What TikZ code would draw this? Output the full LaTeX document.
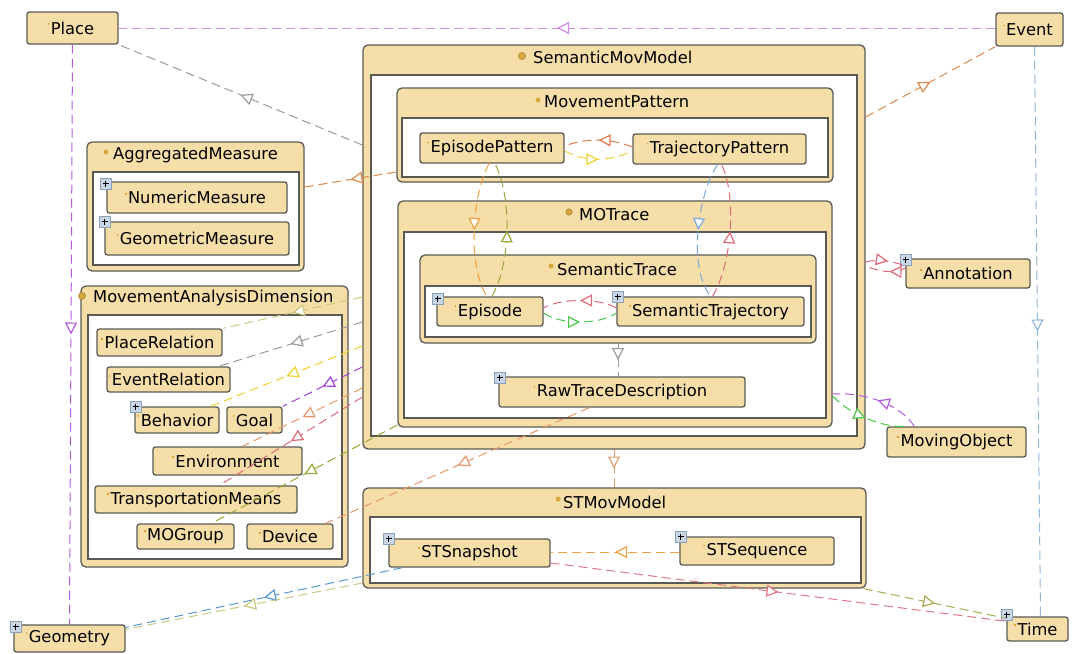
\documentclass[tikz,border=0pt]{standalone}
\usepackage{fontspec}
\setmainfont{DejaVu Sans}
\usetikzlibrary{arrows.meta,decorations.markings,calc}
\definecolor{boxfill}{HTML}{F6DEA8}
\definecolor{boxedge}{HTML}{5A5A55}
\definecolor{dotc}{HTML}{E0A030}
\definecolor{ringc}{HTML}{D8A840}
\definecolor{plusfill}{HTML}{C8D6E6}
\definecolor{plusedge}{HTML}{8AA0B8}
\definecolor{cpurL}{HTML}{CC8CE8}
\definecolor{cpur}{HTML}{B45AE0}
\definecolor{cgrey}{HTML}{9A9A9A}
\definecolor{corange}{HTML}{E08848}
\definecolor{cblue}{HTML}{90B8DC}
\definecolor{credor}{HTML}{E07850}
\definecolor{cyellow}{HTML}{F0D030}
\definecolor{corangeb}{HTML}{F0A040}
\definecolor{colive}{HTML}{98A838}
\definecolor{cblueb}{HTML}{78A8D8}
\definecolor{cred}{HTML}{E06878}
\definecolor{cgreen}{HTML}{48C848}
\definecolor{corangec}{HTML}{E0A070}
\definecolor{cpurpleb}{HTML}{A040D8}
\definecolor{coranged}{HTML}{E89868}
\definecolor{ckhaki}{HTML}{C8C880}
\definecolor{cbluec}{HTML}{5898D0}
\definecolor{cpink}{HTML}{E07888}
\definecolor{coliveb}{HTML}{A8A850}
\newcommand\lblfont{\fontsize{16.3}{19}\selectfont}
\newcommand\tdot{\llap{\textcolor{dotc}{\rule[9pt]{1.8pt}{1.8pt}}\hspace{1.5pt}}}
\tikzset{
  box/.style={draw=boxedge, fill=boxfill, line width=1.3pt, rounded corners=2.5pt, inner sep=0pt, font=\lblfont},
  cont/.style={draw=boxedge, fill=boxfill, line width=1.3pt, rounded corners=5pt, inner sep=0pt},
  whitearea/.style={draw=boxedge, fill=white, line width=1.1pt},
  ttl/.style={anchor=west, inner sep=0pt, font=\lblfont},
  ring/.style={fill=ringc, draw=ringc!80!black, line width=0.6pt},
  smalldot/.style={fill=ringc},
  plusbox/.style={draw=plusedge, fill=plusfill, line width=0.8pt},
  conn/.style={line width=1pt, dash pattern=on 9pt off 5pt},
  tri/.style={postaction={decorate, decoration={markings, mark=at position #1 with {\arrow{Triangle[fill=white, length=12pt, width=12pt, line width=1.2pt]}}}}},
  tri/.default=0.5,
}
\newcommand\mkbox[6]{\node[box, minimum width={(#4-#2)*1pt}, minimum height={(#5-#3)*1pt}] (#1) at ({(#2+#4)/2},{(#3+#5)/2}) {\tdot #6};}
\newcommand\mkcont[5]{\node[cont, minimum width={(#4-#2)*1pt}, minimum height={(#5-#3)*1pt}] (#1) at ({(#2+#4)/2},{(#3+#5)/2}) {};}
\newcommand\plusic[2]{\draw[plusbox] (#1,#2) rectangle ++(11,11); \draw[line width=1.1pt] (#1+5.5,#2+2.5) -- ++(0,6) (#1+2.5,#2+5.5) -- ++(6,0);}
\begin{document}
\begin{tikzpicture}[x=1pt,y=-1pt]
\useasboundingbox[fill=white] (0,0) rectangle (1073,653);

% ---------- containers ----------
\mkcont{smm}{363}{45}{865}{449}
\draw[whitearea] (371,75) rectangle (857,436);
\node[ttl] (smmT) at (533,57) {SemanticMovModel};
\filldraw[ring] (522,56) circle (3.5);

\mkcont{mp}{397}{88}{833}{182}
\draw[whitearea] (402,118) rectangle (828,177);
\node[ttl] (mpT) at (544,102) {MovementPattern};
\fill[smalldot] (538,100) circle (2.5);

\mkcont{mot}{398}{201}{832}{427}
\draw[whitearea] (404,232) rectangle (826,418);
\node[ttl] (motT) at (579,215) {MOTrace};
\filldraw[ring] (569,212) circle (3.2);

\mkcont{st}{420}{255}{816}{343}
\draw[whitearea] (425,286) rectangle (811,337);
\node[ttl] (stT) at (557,269) {SemanticTrace};
\fill[smalldot] (551,266) circle (2.5);

\mkcont{stm}{363}{488}{866}{588}
\draw[whitearea] (370,517) rectangle (861,583);
\node[ttl] (stmT) at (563,502) {STMovModel};
\fill[smalldot] (558,499) circle (2.5);

\mkcont{agg}{87}{142}{304}{271}
\draw[whitearea] (93,172) rectangle (299,265);
\node[ttl] (aggT) at (113,155) {AggregatedMeasure};
\fill[smalldot] (106,152) circle (2.5);

\mkcont{mad}{81}{286}{348}{567}
\draw[whitearea] (88,315) rectangle (342,559);
\node[ttl] (madT) at (93,298) {MovementAnalysisDimension};
\filldraw[ring] (82,296) circle (3.5);

% ---------- boxes ----------
\mkbox{place}{27}{12}{118}{44}{Place}
\mkbox{event}{996}{13}{1063}{46}{Event}
\mkbox{ep}{420}{133}{564}{163}{EpisodePattern}
\mkbox{tp}{633}{134}{806}{164}{TrajectoryPattern}
\mkbox{episode}{437}{297}{543}{326}{Episode}
\mkbox{strj}{617}{297}{804}{326}{SemanticTrajectory}
\mkbox{raw}{499}{377}{745}{407}{RawTraceDescription}
\mkbox{annot}{906}{259}{1030}{288}{Annotation}
\mkbox{movobj}{887}{427}{1026}{457}{MovingObject}
\mkbox{time}{1007}{617}{1068}{641}{Time}
\mkbox{geom}{14}{625}{125}{652}{Geometry}
\mkbox{snap}{389}{539}{550}{567}{STSnapshot}
\mkbox{seq}{680}{537}{834}{565}{STSequence}
\mkbox{num}{107}{182}{287}{213}{NumericMeasure}
\mkbox{geo}{105}{222}{289}{255}{GeometricMeasure}
\mkbox{placerel}{97}{329}{222}{356}{PlaceRelation}
\mkbox{eventrel}{107}{367}{230}{392}{EventRelation}
\mkbox{behavior}{135}{407}{219}{433}{Behavior}
\mkbox{goal}{227}{407}{282}{433}{Goal}
\mkbox{env}{153}{447}{302}{475}{Environment}
\mkbox{trans}{95}{486}{297}{513}{TransportationMeans}
\mkbox{mogroup}{137}{524}{234}{549}{MOGroup}
\mkbox{device}{247}{524}{333}{549}{Device}

% ---------- plus icons ----------
\plusic{100}{178}
\plusic{99}{216}
\plusic{130}{401}
\plusic{432}{293}
\plusic{612}{291}
\plusic{494}{372}
\plusic{900}{254}
\plusic{383}{533}
\plusic{675}{531}
\plusic{1001}{609}
\plusic{10}{621}

% ---------- connectors ----------
\draw[conn, cpurL, tri] (event.west |- place.east) -- (place.east);
\draw[conn, cpur, tri] (place.south) -- (geom.north);
\draw[conn, cgrey, tri] (smm.west |- 0,145) -- (place.south east);
\draw[conn, corange, tri] (smm.east |- 0,117) -- (event.south west);
\draw[conn, cblue, tri] ([xshift=5pt]event.south) -- ([xshift=3pt]time.north);
\draw[conn, corange, tri] (mp.west |- 0,172) -- (agg.east |- 0,187);

\draw[conn, credor, tri] (tp.west |- 0,147) .. controls (610,138) and (585,138) .. (ep.east |- 0,146);
\draw[conn, cyellow, tri] (ep.east |- 0,151) .. controls (585,162) and (610,162) .. (tp.west |- 0,151);

\draw[conn, corangeb, tri] ([xshift=-3pt]ep.south) .. controls (472,195) and (467,265) .. ([xshift=-3pt]episode.north);
\draw[conn, colive, tri] ([xshift=2pt]episode.north) .. controls (510,265) and (513,200) .. ([xshift=3pt]ep.south);
\draw[conn, cblueb, tri] ([xshift=-2pt]tp.south) .. controls (700,190) and (686,264) .. (strj.north);
\draw[conn, cred, tri] ([xshift=2pt]strj.north) .. controls (732,265) and (737,195) .. ([xshift=2pt]tp.south);

\draw[conn, cred, tri] (strj.west |- 0,308) .. controls (600,298) and (560,298) .. (episode.east |- 0,308);
\draw[conn, cgreen, tri] (episode.east |- 0,313) .. controls (560,325) and (600,325) .. (strj.west |- 0,313);

\draw[conn, cgrey, tri] (st.south) -- (st.south |- raw.north);
\draw[conn, corangec, tri] (smm.south) -- (smm.south |- stm.north);

\draw[conn, cred, tri=0.55] (smm.east |- 0,262) .. controls (880,258) and (895,262) .. (annot.west |- 0,266);
\draw[conn, cred, tri=0.4] (annot.west |- 0,268) .. controls (895,274) and (880,272) .. (smm.east |- 0,266);

\draw[conn, cpur, tri] ([xshift=28pt]movobj.north west) .. controls (900,404) and (864,392) .. (mot.east |- 0,394);
\draw[conn, cgreen, tri] (mot.east |- 0,396) .. controls (850,415) and (885,428) .. ([xshift=18pt]movobj.north west);

\draw[conn, ckhaki, tri] (smm.west |- 0,297) -- (placerel.north east);
\draw[conn, cgrey, tri] (smm.west |- 0,322) -- ([xshift=-12pt]eventrel.north east);
\draw[conn, cyellow, tri] (smm.west |- 0,346) -- ([xshift=-9pt]behavior.north east);
\draw[conn, cpurpleb, tri] (smm.west |- 0,367) -- (goal.north east);
\draw[conn, coranged, tri] (smm.west |- 0,388) -- ([xshift=90pt]env.north west);
\draw[conn, cred, tri] (smm.west |- 0,397) -- ([xshift=125pt]trans.north west);
\draw[conn, colive, tri] (mot.west |- 0,425) -- ([xshift=75pt]mogroup.north west);
\draw[conn, coranged, tri] ([xshift=91pt]raw.south west) -- ([xshift=-8pt]device.north east);

\draw[conn, cbluec, tri] ([xshift=14pt]snap.south west) -- ([yshift=-3pt]geom.north east);
\draw[conn, ckhaki, tri] (stm.west |- 0,583) -- ([yshift=-5pt]geom.north east);
\draw[conn, corangeb, tri] (seq.west |- 0,552) -- (snap.east |- 0,552);
\draw[conn, cpink, tri] (snap.east |- 0,563) -- ([yshift=-5pt]time.north west);
\draw[conn, coliveb, tri] ([xshift=-3pt]stm.south east) -- ([yshift=-2pt]time.north west);
\end{tikzpicture}
\end{document}
